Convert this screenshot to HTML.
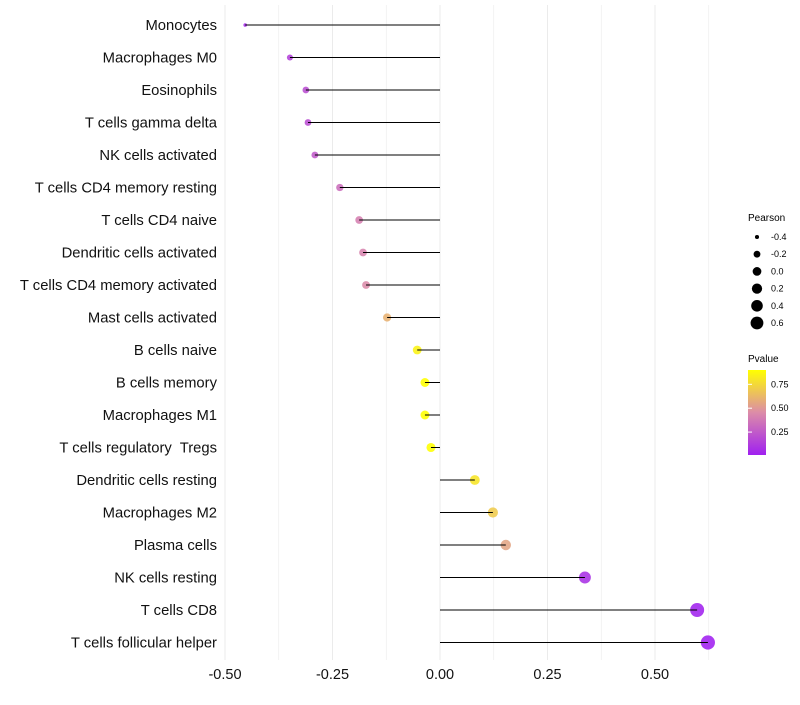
<!DOCTYPE html>
<html><head><meta charset="utf-8"><style>
body{margin:0;background:#fff;font-family:"Liberation Sans",sans-serif}
text{white-space:pre}
</style></head><body>
<svg id="chart" width="800" height="700" xmlns="http://www.w3.org/2000/svg">
<defs><linearGradient id="pg" x1="0" y1="1" x2="0" y2="0">
<stop offset="0" stop-color="#A020F0"/><stop offset="0.5" stop-color="#DC8CA8"/><stop offset="1" stop-color="#FFFF00"/></linearGradient></defs>
<g id="grid"></g><g id="dots"></g><g id="marks"></g><g id="labels"></g>
<g font-size="9" fill="#000">
<text x="748" y="221" font-size="10">Pearson</text>
<g id="sizeleg"></g>
</g>
<g>
<text x="748" y="362" font-size="10">Pvalue</text>
<rect x="748" y="370" width="18" height="85" fill="url(#pg)"/>
<g id="cbticks" font-size="9"></g>
</g>
</svg>
<script>
const cells=["Monocytes","Macrophages M0","Eosinophils","T cells gamma delta","NK cells activated","T cells CD4 memory resting","T cells CD4 naive","Dendritic cells activated","T cells CD4 memory activated","Mast cells activated","B cells naive","B cells memory","Macrophages M1","T cells regulatory  Tregs","Dendritic cells resting","Macrophages M2","Plasma cells","NK cells resting","T cells CD8","T cells follicular helper"];
const pearson=[-0.453,-0.349,-0.312,-0.307,-0.291,-0.233,-0.188,-0.179,-0.172,-0.123,-0.053,-0.035,-0.035,-0.021,0.081,0.123,0.153,0.337,0.598,0.623];
const pvalue=[0.05,0.15,0.2,0.2,0.25,0.33,0.4,0.42,0.45,0.6,0.85,0.9,0.92,0.95,0.8,0.7,0.55,0.08,0.02,0.01];
const xTicks=[-0.5,-0.25,0,0.25,0.5];
const xTickLabels=["-0.50","-0.25","0.00","0.25","0.50"];
const sizeLegend=[-0.4,-0.2,0,0.2,0.4,0.6];
const cbTicks=[0.25,0.5,0.75];
const NS="http://www.w3.org/2000/svg";
const x=v=>440+v*430;
const y=i=>25+i*32.5;
const r=v=>Math.max(1.5,4.6+4*v-8*Math.max(0,-0.33-v));
const rl=v=>Math.sqrt(Math.max(1.5,19+37*v));
const pMin=0.01,pMax=0.9;
const cy=p=>455-(p-pMin)/(pMax-pMin)*85;
function col(p){let t=Math.min(1,Math.max(0,(p-pMin)/(pMax-pMin)));const a=[160,32,240],b=[220,140,168],c=[255,255,0];let s,e,u;if(t<0.5){s=a;e=b;u=t/0.5}else{s=b;e=c;u=(t-0.5)/0.5}return`rgb(${s.map((v,k)=>Math.round(v+(e[k]-v)*u)).join(",")})`}
function mk(tag,at,parent){const el=document.createElementNS(NS,tag);for(const k in at)el.setAttribute(k,at[k]);parent.appendChild(el);return el}
const grid=document.getElementById('grid'),marks=document.getElementById('marks'),dots=document.getElementById('dots'),labels=document.getElementById('labels');
for(let v=-0.5;v<=0.6751;v+=0.125){const l=mk('line',{x1:x(v),x2:x(v),y1:5,y2:660,stroke:'#ebebeb','stroke-width':Math.abs((v*4)%1)<0.01?1:0.6},grid);

}
xTicks.forEach((v,i)=>{const t=mk('text',{x:x(v),y:679,'text-anchor':'middle','font-size':14.5,fill:'#111'},labels);t.textContent=xTickLabels[i];

});
cells.forEach((c,i)=>{
const t=mk('text',{x:217,y:y(i)+5,'text-anchor':'end','font-size':14.8,fill:'#111'},labels);t.textContent=c;


const d=mk('circle',{cx:x(pearson[i]),cy:y(i),r:r(pearson[i]),fill:col(pvalue[i]),'fill-opacity':0.88},dots);


const ln=mk('line',{x1:x(0),x2:x(pearson[i]),y1:y(i),y2:y(i),stroke:'#000','stroke-width':1},marks);


});
const sl=document.getElementById('sizeleg');
sizeLegend.forEach((v,i)=>{const yy=237+i*17.2;
const c=mk('circle',{cx:757,cy:yy,r:rl(v),fill:'#000'},sl);


const t=mk('text',{x:771,y:yy+3,'font-size':9},sl);t.textContent=v.toFixed(1);

});
const cb=document.getElementById('cbticks');
cbTicks.forEach(p=>{const yy=cy(p);
const l=mk('line',{x1:748,x2:752,y1:yy,y2:yy,stroke:'#fff'},cb);


const t=mk('text',{x:771,y:yy+3},cb);t.textContent=p.toFixed(2);

});
</script>
</body></html>
